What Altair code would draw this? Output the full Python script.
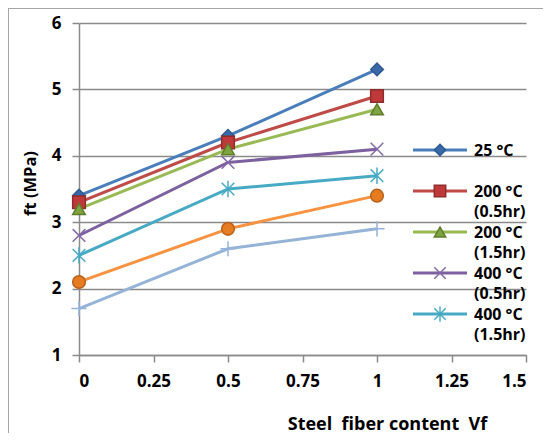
import altair as alt
import pandas as pd

# ---- data ----
vf = [0, 0.5, 1]
series = ["25 °C", "200 °C (0.5hr)", "200 °C (1.5hr)", "400 °C (0.5hr)",
          "400 °C (1.5hr)", "600 °C (0.5hr)", "600 °C (1.5hr)"]
s25 = [3.4, 4.3, 5.3]
s200a = [3.3, 4.2, 4.9]
s200b = [3.2, 4.1, 4.7]
s400a = [2.8, 3.9, 4.1]
s400b = [2.5, 3.5, 3.7]
s600a = [2.1, 2.9, 3.4]
s600b = [1.7, 2.6, 2.9]
x_ticks = [0, 0.25, 0.5, 0.75, 1, 1.25, 1.5]
y_ticks = [1, 2, 3, 4, 5, 6]
legend_series = series[:5]

all_vals = [s25, s200a, s200b, s400a, s400b, s600a, s600b]
rows = []
for name, vals in zip(series, all_vals):
    for x, v in zip(vf, vals):
        rows.append({"series": name, "vf": x, "ft": v})
df = pd.DataFrame(rows)
leg_df = pd.DataFrame({"series": legend_series})

line_colors = ["#4A7EBB", "#BE4B48", "#98B954", "#7D60A0", "#46AAC5", "#F69240", "#95B3D7"]
fill_colors = ["#3A69A8", "#C0393A", "#7FA33E", "#7D60A0", "#46AAC5", "#E57C22", "#95B3D7"]
stroke_colors = ["#2F5A92", "#8E2D2B", "#5F7D2C", "#8469A6", "#46AAC5", "#B8601A", "#95B3D7"]
shapes = ["diamond", "square", "triangle-up",
          "M-1,-1L1,1M-1,1L1,-1",
          "M-1,-1L1,1M-1,1L1,-1M0,-1.3L0,1.3",
          "circle",
          "M-1.2,0L1.2,0M0,-1.2L0,1.2"]

FONT = "Open Sans"
GRID = "#8a8a8a"

color_scale = alt.Scale(domain=series, range=line_colors)
shape_scale = alt.Scale(domain=series, range=shapes)
fill_scale = alt.Scale(domain=series, range=fill_colors)
stroke_scale = alt.Scale(domain=series, range=stroke_colors)

x_enc = alt.X("vf:Q", scale=alt.Scale(domain=[0, 1.5], nice=False, zero=False),
              axis=alt.Axis(values=x_ticks, format=".2~f", grid=False,
                            title="Steel\u00a0 fiber content\u00a0 Vf",
                            titleX=308, titleY=74, titleBaseline="alphabetic",
                            titleAnchor="start", titleAlign="center",
                            titleFont=FONT, titleFontSize=18, titleFontWeight="bold",
                            titleColor="black",
                            labelFont=FONT, labelFontSize=17, labelFontWeight="bold",
                            labelColor="black", labelPadding=11))
y_enc = alt.Y("ft:Q", scale=alt.Scale(domain=[1, 6], nice=False, zero=False),
              axis=alt.Axis(values=y_ticks, format="~g", grid=True,
                            title="ft (MPa)", titleX=-49, titleY=160,
                            titleAngle=270, titleBaseline="middle",
                            titleAlign="center", titleAnchor="start",
                            titleFont=FONT, titleFontSize=16.5, titleFontWeight="bold",
                            titleColor="black",
                            labelFont=FONT, labelFontSize=17, labelFontWeight="bold",
                            labelColor="black", labelPadding=11))

base = alt.Chart(df).encode(x=x_enc, y=y_enc)

lines = base.mark_line(strokeWidth=3).encode(
    color=alt.Color("series:N", scale=color_scale, legend=None),
    detail="series:N",
)

points = base.mark_point(filled=True, size=160, strokeWidth=1.5, opacity=1).encode(
    shape=alt.Shape("series:N", scale=shape_scale, legend=None),
    fill=alt.Fill("series:N", scale=fill_scale, legend=None),
    stroke=alt.Stroke("series:N", scale=stroke_scale, legend=None),
)

main = alt.layer(lines, points)

# ---- legend drawn as marks, rows placed by a point scale ----
leg_y = alt.Y("series:N", scale=alt.Scale(type="point", domain=legend_series,
                                           range=[127, 291], padding=0), axis=None)
leg_base = alt.Chart(leg_df).encode(y=leg_y)
leg_rule = leg_base.mark_rule(strokeWidth=3).encode(
    x=alt.value(334), x2=alt.value(388),
    color=alt.Color("series:N", scale=color_scale, legend=None))
leg_pts = leg_base.mark_point(filled=True, size=130, strokeWidth=1.5, opacity=1).encode(
    x=alt.value(361),
    shape=alt.Shape("series:N", scale=shape_scale, legend=None),
    fill=alt.Fill("series:N", scale=fill_scale, legend=None),
    stroke=alt.Stroke("series:N", scale=stroke_scale, legend=None))
leg_text = leg_base.transform_calculate(
    label="replace(datum.series, ' (', '\\n(')"
).mark_text(align="left", baseline="alphabetic", dy=6, lineBreak="\n",
            lineHeight=20, font=FONT, fontSize=16, fontWeight="bold",
            color="black").encode(x=alt.value(395), text="label:N")
legend = alt.layer(leg_rule, leg_pts, leg_text)

frame_top = alt.Chart(leg_df).mark_rule(color="#a6a6a6", strokeWidth=1).encode(
    x=alt.value(-70.5), x2=alt.value(470), y=alt.value(-14.5))
frame_left = alt.Chart(leg_df).mark_rule(color="#a6a6a6", strokeWidth=1).encode(
    x=alt.value(-70.5), y=alt.value(-14.5), y2=alt.value(420))

chart = alt.layer(main, legend, frame_top, frame_left).resolve_scale(
    y="independent"
).properties(
    width=447, height=332,
    autosize=alt.AutoSizeParams(type="none"),
    padding={"left": 71, "top": 15, "right": 17, "bottom": 78},
).configure_view(stroke=None).configure_axis(
    domainColor=GRID, domainWidth=1.5, tickColor=GRID, tickWidth=1.5, tickSize=7,
    gridColor=GRID, gridWidth=1.5,
)

chart.save("out.html", embed_options={"renderer": "svg", "actions": False})
